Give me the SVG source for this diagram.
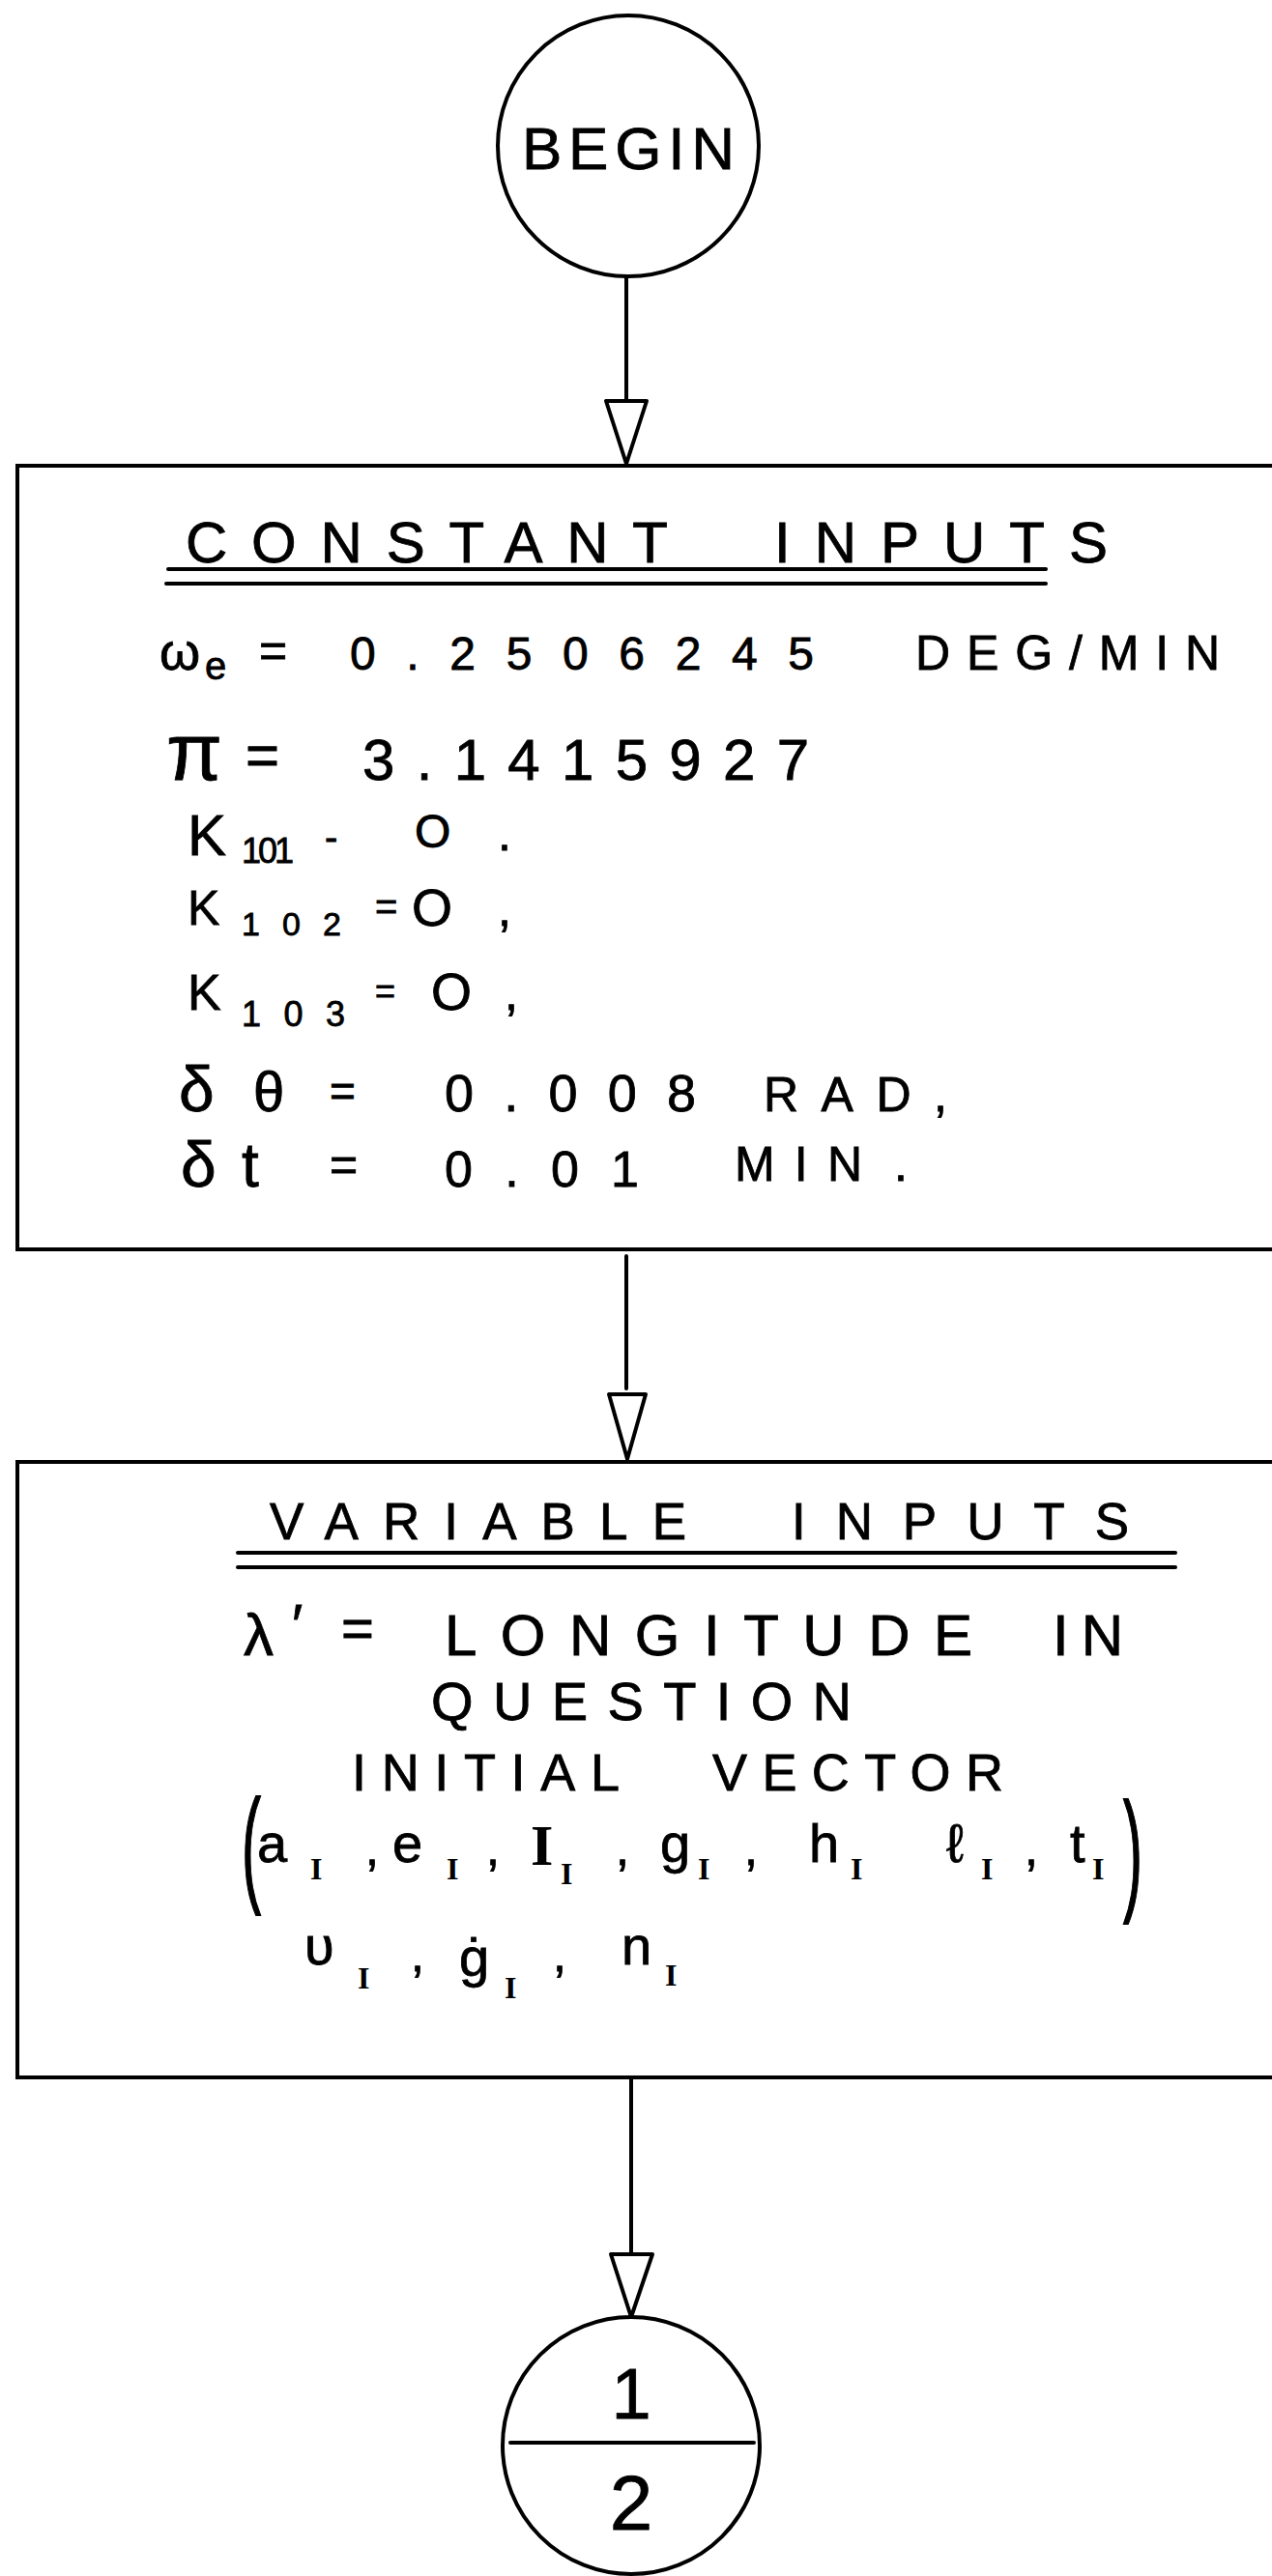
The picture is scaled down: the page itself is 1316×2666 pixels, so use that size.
<svg xmlns="http://www.w3.org/2000/svg" width="1316" height="2666" viewBox="0 0 1316 2666">
<style>
.ln{fill:none;stroke:#000;stroke-width:4;stroke-linecap:round}
.hd{fill:#fff;stroke:#000;stroke-width:4;stroke-linejoin:round}
.t{font-family:"Liberation Sans",Arial,sans-serif;fill:#000;stroke:#000;stroke-width:0.8}
.s{font-family:"Liberation Serif","Times New Roman",serif;font-weight:bold;fill:#000}
</style>
<rect x="0" y="0" width="1316" height="2666" fill="#fff"/>

<g id="begin">
<circle class="ln" cx="650" cy="151" r="135"/>
<text class="t" x="540" y="175" font-size="62" textLength="220" lengthAdjust="spacing">BEGIN</text>
</g>

<g id="constant-inputs">
<rect class="ln" x="18" y="482" width="1330" height="811"/>
<text class="t" x="192" y="582" font-size="60" textLength="499" lengthAdjust="spacing">CONSTANT</text>
<text class="t" x="801" y="582" font-size="60" textLength="345" lengthAdjust="spacing">INPUTS</text>
<line class="ln" x1="174" y1="589" x2="1082" y2="589" stroke-width="3"/>
<line class="ln" x1="172" y1="604" x2="1082" y2="604" stroke-width="3"/>
<text class="t" x="165" y="693" font-size="54">ω</text>
<text class="t" x="212" y="703" font-size="40">e</text>
<text class="t" x="268" y="690" font-size="50">=</text>
<text class="t" x="362" y="693" font-size="48" textLength="480" lengthAdjust="spacing">0.2506245</text>
<text class="t" x="947" y="693" font-size="50" textLength="315" lengthAdjust="spacing">DEG/MIN</text>
<text class="t" x="172" y="807" font-size="84">π</text>
<text class="t" x="254" y="802" font-size="60">=</text>
<text class="t" x="375" y="807" font-size="60" textLength="462" lengthAdjust="spacing">3.1415927</text>
<text class="t" x="194" y="885" font-size="60">K</text>
<text class="t" x="250" y="893" font-size="36" textLength="54" lengthAdjust="spacing">101</text>
<text class="t" x="336" y="880" font-size="40">-</text>
<text class="t" x="429" y="877" font-size="48">O</text>
<text class="t" x="515" y="880" font-size="50">.</text>
<text class="t" x="194" y="957" font-size="50">K</text>
<text class="t" x="250" y="968" font-size="34" textLength="103" lengthAdjust="spacing">102</text>
<text class="t" x="388" y="952" font-size="40">=</text>
<text class="t" x="426" y="958" font-size="54">O</text>
<text class="t" x="515" y="958" font-size="50">,</text>
<text class="t" x="194" y="1045" font-size="52">K</text>
<text class="t" x="250" y="1062" font-size="36" textLength="107" lengthAdjust="spacing">103</text>
<text class="t" x="388" y="1038" font-size="36">=</text>
<text class="t" x="446" y="1045" font-size="54">O</text>
<text class="t" x="522" y="1045" font-size="50">,</text>
<text class="t" x="185" y="1150" font-size="66">δ</text>
<text class="t" x="262" y="1150" font-size="58">θ</text>
<text class="t" x="341" y="1145" font-size="46">=</text>
<text class="t" x="460" y="1150" font-size="54" textLength="260" lengthAdjust="spacing">0.008</text>
<text class="t" x="790" y="1150" font-size="50" textLength="190" lengthAdjust="spacing">RAD,</text>
<text class="t" x="187" y="1228" font-size="66">δ</text>
<text class="t" x="250" y="1228" font-size="64">t</text>
<text class="t" x="341" y="1222" font-size="50">=</text>
<text class="t" x="460" y="1228" font-size="52" textLength="201" lengthAdjust="spacing">0.01</text>
<text class="t" x="760" y="1222" font-size="50" textLength="132" lengthAdjust="spacing">MIN</text>
<text class="t" x="925" y="1222" font-size="50">.</text>
</g>

<g id="variable-inputs">
<rect class="ln" x="18" y="1513" width="1330" height="637"/>
<text class="t" x="279" y="1593" font-size="53" textLength="431" lengthAdjust="spacing">VARIABLE</text>
<text class="t" x="819" y="1593" font-size="53" textLength="349" lengthAdjust="spacing">INPUTS</text>
<line class="ln" x1="246" y1="1607" x2="1216" y2="1607" stroke-width="3"/>
<line class="ln" x1="246" y1="1622" x2="1216" y2="1622" stroke-width="3"/>
<text class="t" x="252" y="1713" font-size="62">λ</text>
<text class="t" x="302" y="1702" font-size="60">′</text>
<text class="t" x="353" y="1705" font-size="58">=</text>
<text class="t" x="460" y="1713" font-size="60" textLength="546" lengthAdjust="spacing">LONGITUDE</text>
<text class="t" x="1089" y="1713" font-size="60" textLength="73" lengthAdjust="spacing">IN</text>
<text class="t" x="446" y="1780" font-size="56" textLength="435" lengthAdjust="spacing">QUESTION</text>
<text class="t" x="364" y="1853" font-size="54" textLength="277" lengthAdjust="spacing">INITIAL</text>
<text class="t" x="737" y="1853" font-size="54" textLength="301" lengthAdjust="spacing">VECTOR</text>
<text class="t" transform="translate(250,1955) scale(1,2.2)" font-size="60" stroke-width="0.4">(</text>
<text class="t" x="266" y="1927" font-size="56">a</text>
<text class="s" x="321" y="1945" font-size="32">I</text>
<text class="t" x="378" y="1930" font-size="50">,</text>
<text class="t" x="406" y="1927" font-size="56">e</text>
<text class="s" x="462" y="1945" font-size="32">I</text>
<text class="t" x="503" y="1930" font-size="50">,</text>
<text class="s" x="549" y="1930" font-size="60">I</text>
<text class="s" x="580" y="1950" font-size="32">I</text>
<text class="t" x="637" y="1930" font-size="50">,</text>
<text class="t" x="683" y="1927" font-size="56">g</text>
<text class="s" x="722" y="1945" font-size="32">I</text>
<text class="t" x="770" y="1930" font-size="50">,</text>
<text class="t" x="837" y="1927" font-size="56">h</text>
<text class="s" x="880" y="1945" font-size="32">I</text>
<text class="t" x="979" y="1927" font-size="56">ℓ</text>
<text class="s" x="1015" y="1945" font-size="32">I</text>
<text class="t" x="1060" y="1930" font-size="50">,</text>
<text class="t" x="1107" y="1927" font-size="56">t</text>
<text class="s" x="1130" y="1945" font-size="32">I</text>
<text class="t" transform="translate(1162,1962) scale(1,2.3)" font-size="60" stroke-width="0.4">)</text>
<text class="t" x="315" y="2033" font-size="56">υ</text>
<text class="s" x="370" y="2058" font-size="32">I</text>
<text class="t" x="425" y="2040" font-size="50">,</text>
<text class="t" x="475" y="2045" font-size="56">ġ</text>
<text class="s" x="522" y="2068" font-size="32">I</text>
<text class="t" x="572" y="2040" font-size="50">,</text>
<text class="t" x="643" y="2033" font-size="56">n</text>
<text class="s" x="688" y="2055" font-size="32">I</text>
</g>

<g id="connector-1-2">
<circle class="ln" cx="653" cy="2531" r="133"/>
<line class="ln" x1="528" y1="2528" x2="780" y2="2528" stroke-width="3.5"/>
<text class="t" x="653" y="2503" font-size="74" text-anchor="middle">1</text>
<text class="t" x="653" y="2618" font-size="80" text-anchor="middle">2</text>
</g>

<g id="connectors">
<line class="ln" x1="648" y1="286" x2="648" y2="415" stroke-width="3.5"/>
<polygon class="hd" points="627,415 669,415 648,480"/>
<line class="ln" x1="648" y1="1300" x2="648" y2="1437" stroke-width="3.5"/>
<polygon class="hd" points="630,1443 668,1443 649,1510"/>
<line class="ln" x1="653" y1="2150" x2="653" y2="2333" stroke-width="3.5"/>
<polygon class="hd" points="632,2333 675,2333 653,2398"/>
</g>
</svg>
